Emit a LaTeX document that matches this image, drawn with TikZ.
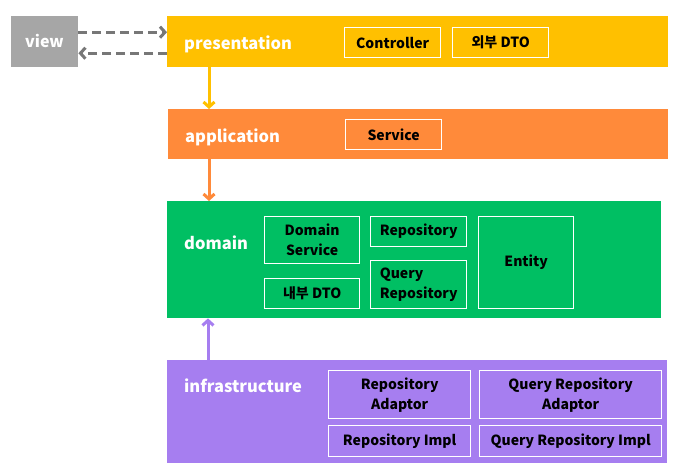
\documentclass[tikz,border=0pt]{standalone}
\usepackage{fontspec}
\setmainfont{Noto Sans CJK KR}
\usepackage{xcolor}
\usepackage{tikz}
\usetikzlibrary{arrows.meta,positioning,calc}

\definecolor{viewgray}{HTML}{A6A6A6}
\definecolor{arrowgray}{HTML}{777777}
\definecolor{presyellow}{HTML}{FFC000}
\definecolor{apporange}{HTML}{FF8A3A}
\definecolor{domgreen}{HTML}{00BF63}
\definecolor{infrapurple}{HTML}{A67EF0}

\begin{document}
\begin{tikzpicture}[x=1pt, y=-1pt,
    layer/.style={rectangle, anchor=north west, inner sep=0pt},
    title/.style={anchor=base west, text=white, font=\fontsize{16.5}{18}\selectfont\bfseries, inner sep=0pt},
    part/.style={draw=white, line width=1.3pt, rectangle, anchor=north west, inner sep=0pt, align=center, font=\fontsize{14}{20}\selectfont\bfseries},
    link/.style={line width=3pt, -{Straight Barb[length=5pt, width=11pt]}}]
    \useasboundingbox (0,0) rectangle (681,474);

    % layers
    \node[layer, fill=viewgray, minimum width=67pt, minimum height=51pt] (view) at (11,16) {};
    \node[anchor=base, inner sep=0pt, text=white, font=\fontsize{16}{18}\selectfont\bfseries] (viewname) at (44.5,47) {view};
    \node[layer, fill=presyellow, minimum width=501pt, minimum height=51pt] (pres) at (167,16) {};
    \node[layer, fill=apporange, minimum width=500pt, minimum height=50pt] (app) at (168,109) {};
    \node[layer, fill=domgreen, minimum width=494pt, minimum height=117pt] (dom) at (167,201) {};
    \node[layer, fill=infrapurple, minimum width=500pt, minimum height=103pt] (infra) at (167,360) {};

    \node[title] (presname) at (184,49) {presentation};
    \node[title] (appname) at (185,142) {application};
    \node[title] (domname) at (184,249) {domain};
    \node[title] (infraname) at (184,392) {infrastructure};

    % parts
    \node[part, minimum width=96pt, minimum height=30pt] (ctrl) at (344,27) {Controller};
    \node[part, minimum width=96pt, minimum height=30pt] (outdto) at (452,27) {외부 DTO};
    \node[part, minimum width=96pt, minimum height=30pt] (svc) at (345,119) {Service};
    \node[part, minimum width=95pt, minimum height=47pt] (domsvc) at (264,216) {Domain\\Service};
    \node[part, minimum width=95pt, minimum height=30pt] (indto) at (264,278) {내부 DTO};
    \node[part, minimum width=96pt, minimum height=30pt] (repo) at (370,216) {Repository};
    \node[part, minimum width=96pt, minimum height=48pt, align=left] (qrepo) at (370,260) {Query\\Repository};
    \node[part, minimum width=95pt, minimum height=92pt] (entity) at (478,216) {Entity};
    \node[part, minimum width=142pt, minimum height=48pt] (repoadp) at (328,370) {Repository\\Adaptor};
    \node[part, minimum width=182pt, minimum height=48pt] (qrepoadp) at (479,370) {Query Repository\\Adaptor};
    \node[part, minimum width=142pt, minimum height=31pt] (repoimpl) at (328,425) {Repository Impl};
    \node[part, minimum width=182pt, minimum height=31pt] (qrepoimpl) at (479,425) {Query Repository Impl};

    % connectors
    \draw[link, arrowgray, dash pattern=on 9pt off 5pt] ([yshift=9.5pt]view.east) -- ([yshift=9.5pt]view.east -| pres.west);
    \draw[link, arrowgray, dash pattern=on 9pt off 5pt] ([yshift=-11.5pt]view.east -| pres.west) -- ([yshift=-11.5pt]view.east);
    \draw[link, presyellow] ([xshift=42pt]pres.south west) -- ([xshift=42pt]pres.south west |- app.north);
    \draw[link, apporange] ([xshift=41pt]app.south west) -- ([xshift=41pt]app.south west |- dom.north);
    \draw[link, infrapurple] ([xshift=41pt]infra.north west) -- ([xshift=41pt]infra.north west |- dom.south);
\end{tikzpicture}
\end{document}
